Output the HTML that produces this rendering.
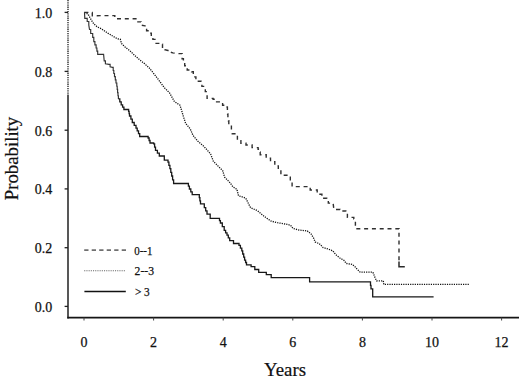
<!DOCTYPE html>
<html><head><meta charset="utf-8"><style>
html,body{margin:0;padding:0;background:#fff;}
body{width:520px;height:377px;overflow:hidden;}
svg{display:block;}
text{font-family:"Liberation Serif",serif;fill:#111;stroke:#111;stroke-width:0.25px;}
.lbl{font-size:14px;}
.title{font-size:19px;stroke-width:0.2px;}
.leg{font-size:13px;}
</style></head><body>
<svg width="520" height="377" viewBox="0 0 520 377">
<rect width="520" height="377" fill="#fff"/>
<line x1="68" y1="0" x2="68" y2="95" stroke="#1a1a1a" stroke-width="1.3" stroke-dasharray="1.3 0.9"/>
<line x1="68" y1="95" x2="68" y2="318.4" stroke="#111" stroke-width="1.4"/>
<line x1="67.3" y1="317.6" x2="519" y2="317.6" stroke="#151515" stroke-width="1.6"/>
<line x1="64.6" y1="12.4" x2="68" y2="12.4" stroke="#222" stroke-width="1.3"/>
<text x="52.3" y="17.7" text-anchor="end" class="lbl">1.0</text>
<line x1="64.6" y1="71.4" x2="68" y2="71.4" stroke="#222" stroke-width="1.3"/>
<text x="52.3" y="76.7" text-anchor="end" class="lbl">0.8</text>
<line x1="64.6" y1="130.2" x2="68" y2="130.2" stroke="#222" stroke-width="1.3"/>
<text x="52.3" y="135.5" text-anchor="end" class="lbl">0.6</text>
<line x1="64.6" y1="188.9" x2="68" y2="188.9" stroke="#222" stroke-width="1.3"/>
<text x="52.3" y="194.2" text-anchor="end" class="lbl">0.4</text>
<line x1="64.6" y1="247.7" x2="68" y2="247.7" stroke="#222" stroke-width="1.3"/>
<text x="52.3" y="253.0" text-anchor="end" class="lbl">0.2</text>
<line x1="64.6" y1="306.4" x2="68" y2="306.4" stroke="#222" stroke-width="1.3"/>
<text x="52.3" y="311.7" text-anchor="end" class="lbl">0.0</text>
<line x1="84.0" y1="317.6" x2="84.0" y2="320.5" stroke="#444" stroke-width="1"/>
<text x="84.0" y="347.3" text-anchor="middle" class="lbl">0</text>
<line x1="153.6" y1="317.6" x2="153.6" y2="320.5" stroke="#444" stroke-width="1"/>
<text x="153.6" y="347.3" text-anchor="middle" class="lbl">2</text>
<line x1="223.2" y1="317.6" x2="223.2" y2="320.5" stroke="#444" stroke-width="1"/>
<text x="223.2" y="347.3" text-anchor="middle" class="lbl">4</text>
<line x1="292.8" y1="317.6" x2="292.8" y2="320.5" stroke="#444" stroke-width="1"/>
<text x="292.8" y="347.3" text-anchor="middle" class="lbl">6</text>
<line x1="362.4" y1="317.6" x2="362.4" y2="320.5" stroke="#444" stroke-width="1"/>
<text x="362.4" y="347.3" text-anchor="middle" class="lbl">8</text>
<line x1="432.0" y1="317.6" x2="432.0" y2="320.5" stroke="#444" stroke-width="1"/>
<text x="432.0" y="347.3" text-anchor="middle" class="lbl">10</text>
<line x1="501.6" y1="317.6" x2="501.6" y2="320.5" stroke="#444" stroke-width="1"/>
<text x="501.6" y="347.3" text-anchor="middle" class="lbl">12</text>
<text x="264.0" y="375.6" class="title" textLength="42.0" lengthAdjust="spacingAndGlyphs">Years</text>
<text transform="translate(18.2,200.2) rotate(-90)" x="0" y="0" class="title" textLength="83.4" lengthAdjust="spacingAndGlyphs">Probability</text>
<polyline points="84.4,12.4 88.0,14.0 90.3,18.3 92.7,22.3 94.3,24.3 97.5,27.1 101.2,28.6 107.2,32.8 113.1,36.3 117.3,38.7 120.3,39.3 121.5,43.5 125.1,47.1 129.8,50.7 134.6,55.4 139.4,59.6 144.7,63.8 149.3,68.0 156.7,77.3 164.2,87.5 169.7,93.1 174.4,101.5 180.0,105.2 182.8,114.5 185.6,123.4 190.2,128.9 193.0,135.4 197.6,141.0 204.1,146.6 210.6,154.0 213.4,161.4 218.1,166.1 222.7,170.7 224.6,177.2 230.1,182.8 233.0,186.9 236.9,189.3 238.5,195.7 245.7,198.1 250.5,207.6 257.6,210.8 263.2,215.6 266.4,218.0 271.1,221.1 277.5,222.7 287.0,224.3 290.6,225.3 293.0,228.5 299.3,230.1 307.3,230.9 311.2,234.1 313.6,238.1 315.2,242.0 319.2,243.6 323.2,247.6 328.7,249.2 332.7,250.8 335.9,254.8 339.9,258.0 343.9,260.3 346.2,263.5 351.8,264.3 354.2,265.9 357.0,269.0 360.2,272.2 372.9,272.2 375.0,277.5 376.5,280.8 383.3,280.8 383.8,284.4 469.2,284.4" fill="none" stroke="#111" stroke-width="1.3" stroke-dasharray="1.2 1.1"/>
<polyline points="84.4,12.4 92.3,12.4 92.3,15.7 111.6,15.6 114.8,15.6 114.8,18.7 135.4,18.7 137.0,18.7 137.0,21.9 141.0,21.9 141.0,25.1 145.0,25.9 146.6,25.9 146.6,30.7 149.7,30.7 149.7,33.1 151.3,33.1 151.3,37.8 152.9,37.8 152.9,39.4 156.1,39.4 156.1,43.4 160.9,43.4 160.9,44.2 162.5,44.2 162.5,47.4 164.8,47.4 164.8,49.7 168.0,50.5 170.4,50.5 170.4,52.1 172.8,52.9 178.6,53.6 182.1,53.6 182.1,58.8 183.4,58.8 183.4,62.2 184.7,62.2 184.7,65.7 187.2,65.7 187.2,70.0 191.6,70.0 191.6,71.7 193.3,71.7 193.3,76.9 195.9,76.9 195.9,81.2 201.0,81.2 201.0,82.1 201.9,82.1 201.9,86.4 205.3,86.4 205.3,91.6 206.2,91.6 206.2,95.0 207.1,95.0 207.1,98.4 213.1,98.4 213.1,99.3 216.6,99.3 216.6,101.9 222.6,101.9 222.6,105.3 227.1,105.3 227.1,107.1 227.4,107.1 227.4,110.5 227.6,110.5 227.6,114.0 227.9,114.0 227.9,117.4 228.4,117.4 228.4,120.8 228.8,120.8 228.8,124.3 231.4,124.3 231.4,129.5 232.2,133.8 235.7,133.8 235.7,135.5 237.4,135.5 237.4,140.7 240.9,140.7 240.9,143.3 246.0,143.3 246.0,145.0 252.1,145.0 252.1,147.6 258.1,147.6 258.1,149.3 259.1,149.3 259.1,152.0 260.2,152.0 260.2,154.7 266.2,154.7 266.2,158.1 270.5,158.1 270.5,161.6 274.8,161.6 274.8,165.9 278.3,165.9 278.3,170.2 280.9,170.2 280.9,175.3 286.9,175.3 286.9,177.1 290.3,177.1 290.3,181.4 292.1,181.4 292.1,186.6 306.7,186.6 310.2,186.6 310.2,190.0 317.2,190.0 317.2,194.3 321.9,194.3 321.9,198.3 326.7,198.3 326.7,199.9 328.3,199.9 328.3,203.1 333.1,203.1 333.9,209.5 340.0,209.5 340.0,211.0 345.8,211.0 345.8,212.6 347.4,212.6 347.4,217.4 353.8,217.4 353.8,219.0 355.4,219.6 355.4,228.7 399.0,228.7 399.0,262.0" fill="none" stroke="#303030" stroke-width="1.4" stroke-dasharray="4 3.8"/>
<polyline points="84.5,12.4 84.8,18.3 87.2,18.3 87.2,21.5 88.8,21.5 88.8,25.1 89.5,29.5 90.7,29.5 90.7,33.5 92.7,33.5 92.7,37.4 93.8,37.4 93.8,41.6 94.9,41.6 94.9,44.8 96.1,44.8 96.1,48.0 96.9,48.0 96.9,51.1 97.7,51.1 97.7,54.3 103.6,54.3 104.2,60.8 105.4,60.8 105.4,63.8 109.0,64.4 110.1,64.4 110.1,66.8 112.5,67.4 113.2,67.4 113.2,70.5 113.8,70.5 113.8,73.5 114.5,73.5 114.5,76.6 115.3,76.6 115.3,79.8 116.0,79.8 116.0,83.0 116.8,83.0 116.8,86.2 117.2,86.2 117.2,89.4 117.6,89.4 117.6,92.6 118.0,92.6 118.0,95.7 118.4,95.7 118.4,98.9" fill="none" stroke="#333" stroke-width="1.15" stroke-linejoin="miter"/>
<polyline points="118.4,98.9 119.8,98.9 119.8,101.9 121.2,101.9 121.2,104.9 122.6,104.9 122.6,107.2 123.9,107.2 123.9,109.5 128.6,109.5 128.6,111.4 129.1,111.4 129.1,113.7 129.5,113.7 129.5,116.0 130.9,116.0 130.9,119.2 132.3,119.2 132.3,122.5 134.2,122.5 134.2,125.3 136.0,125.3 136.0,128.1 137.2,128.1 137.2,130.9 138.5,130.9 138.5,133.7 139.7,133.7 139.7,136.5 148.1,136.5 148.1,138.0 149.1,138.0 149.1,140.5 150.0,140.5 150.0,143.0 153.7,143.0 153.7,143.9 154.6,143.9 154.6,147.2 155.5,147.2 155.5,150.4 157.4,150.4 157.4,153.2 159.3,153.2 159.3,156.0 164.3,156.0 164.3,160.2 168.0,160.2 168.0,162.1 168.9,162.1 168.9,165.3 169.9,165.3 169.9,168.6 170.8,168.6 170.8,172.3 171.7,172.3 171.7,176.0 172.6,176.0 172.6,179.8 173.6,179.8 173.6,183.5 187.5,183.5 188.4,183.5 188.4,186.2 189.4,186.2 189.4,189.0 190.8,189.0 190.8,191.8 192.2,191.8 192.2,194.6 198.7,194.6 199.3,194.6 199.3,197.7 199.9,197.7 199.9,200.8 200.5,200.8 200.5,203.9 204.3,203.9 204.3,207.6 205.7,207.6 205.7,210.8 207.0,210.8 207.0,214.1 210.2,214.1 210.2,218.4 218.6,218.4 219.5,218.4 219.5,220.7 220.4,220.7 220.4,223.0 222.3,223.0 222.3,226.7 224.2,226.7 224.2,230.4 225.6,230.4 225.6,232.8 227.0,232.8 227.0,235.1 228.3,235.1 228.3,237.9 229.7,237.9 229.7,240.7 233.5,240.7 233.5,243.5 239.0,243.5 239.0,245.3 240.4,245.3 240.4,248.1 241.8,248.1 241.8,250.9 242.7,250.9 242.7,254.0 243.7,254.0 243.7,257.1 244.6,257.1 244.6,260.2 245.6,260.2 245.6,262.5 246.5,262.5 246.5,264.8 251.1,264.8 251.1,266.7 254.8,266.7 254.8,269.5 258.7,269.5 258.7,272.3 265.4,272.3 266.3,272.3 266.3,274.6 270.2,274.6 271.2,274.6 271.2,277.7 308.7,277.7 309.6,277.7 309.6,281.8 370.0,281.8 370.5,281.8 370.5,285.3 371.0,285.3 371.0,288.8 372.7,288.8 372.7,296.9 433.6,296.9" fill="none" stroke="#181818" stroke-width="1.3" stroke-linejoin="miter"/>
<polyline points="399,261.5 399,266.8 404.8,266.8" fill="none" stroke="#2a2a2a" stroke-width="1.5"/>
<line x1="84.2" y1="250.1" x2="126" y2="250.1" stroke="#707070" stroke-width="1.7" stroke-dasharray="4.3 3.2"/>
<line x1="84.2" y1="270.7" x2="126" y2="270.7" stroke="#666" stroke-width="1.1" stroke-dasharray="1.1 1.1"/>
<line x1="84.4" y1="291.5" x2="125.8" y2="291.5" stroke="#111" stroke-width="1.5"/>
<text x="134.2" y="254.7" class="leg" textLength="18.2" lengthAdjust="spacingAndGlyphs">0--1</text>
<text x="134.6" y="275.4" class="leg" textLength="19.4" lengthAdjust="spacingAndGlyphs">2--3</text>
<text x="134.9" y="296.1" class="leg" textLength="14.8" lengthAdjust="spacingAndGlyphs">&gt; 3</text>
</svg>
</body></html>
